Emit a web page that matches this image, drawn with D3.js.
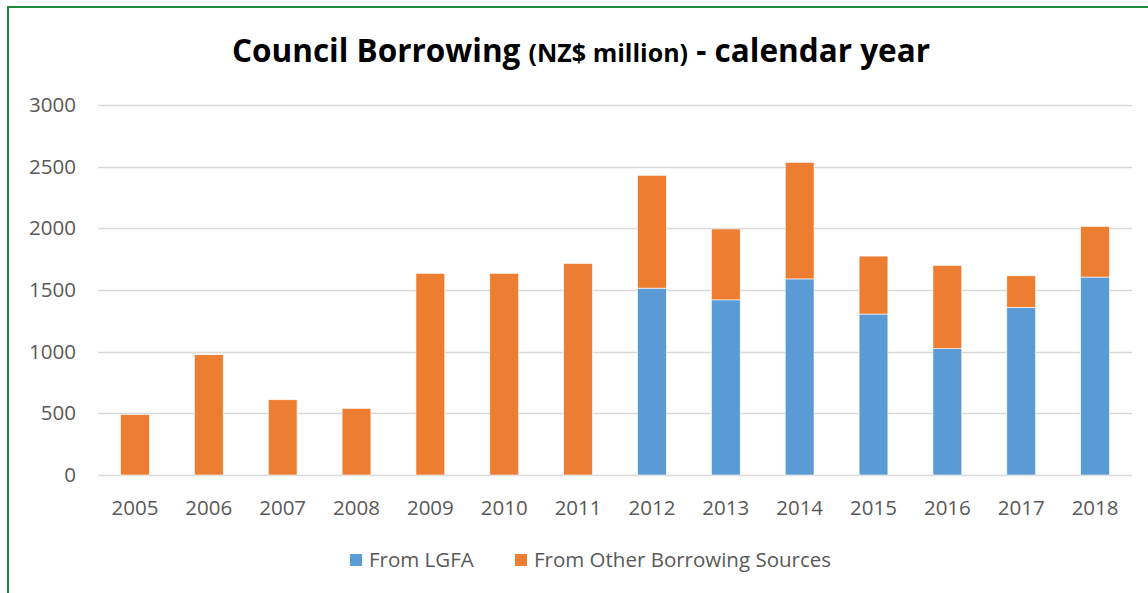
<!DOCTYPE html>
<html>
<head>
<meta charset="utf-8">
<title>Council Borrowing</title>
<script src="https://cdn.jsdelivr.net/npm/d3@7"></script>
<style>
    body { margin: 0; background: #fff; }
    text { font-family: "Open Sans", "Noto Sans", sans-serif; }
</style>
</head>
<body>
<div id="chart"></div>
<script>

    // Data (NZ$ million)
    const years = ["2005", "2006", "2007", "2008", "2009", "2010", "2011",
                   "2012", "2013", "2014", "2015", "2016", "2017", "2018"];
    const fromLGFA = [0, 0, 0, 0, 0, 0, 0, 1515, 1420, 1590, 1305, 1025, 1360, 1605];
    const fromOther = [490, 975, 610, 540, 1635, 1635, 1715, 915, 575, 945, 470, 675, 255, 410];
    const yTicks = [0, 500, 1000, 1500, 2000, 2500, 3000];
    const seriesNames = ["From LGFA", "From Other Borrowing Sources"];
    const seriesColors = ["#5B9BD5", "#ED7D31"];

    const width = 1148;
    const height = 593;
    const margin = { top: 105, right: 16, bottom: 118, left: 98 };

    const svg = d3.select("#chart")
        .append("svg")
        .attr("width", width)
        .attr("height", height);

    // green frame
    svg.append("rect")
        .attr("x", 8)
        .attr("y", 7)
        .attr("width", width + 20)
        .attr("height", height + 20)
        .attr("fill", "none")
        .attr("stroke", "#1E8A3C")
        .attr("stroke-width", 2);

    const x = d3.scaleBand()
        .domain(years)
        .range([margin.left, width - margin.right])
        .paddingInner(0.61)
        .paddingOuter(0.305);

    const y = d3.scaleLinear()
        .domain([0, 3000])
        .range([height - margin.bottom, margin.top]);

    // gridlines
    svg.append("g")
        .selectAll("line")
        .data(yTicks)
        .enter()
        .append("line")
        .attr("x1", margin.left)
        .attr("x2", width - margin.right)
        .attr("y1", d => Math.round(y(d)) + 0.5)
        .attr("y2", d => Math.round(y(d)) + 0.5)
        .attr("stroke", "#D9D9D9")
        .attr("stroke-width", 1.5);

    // y axis labels
    const yAxis = d3.axisLeft(y)
        .tickValues(yTicks)
        .tickFormat(d3.format("d"))
        .tickSize(0)
        .tickPadding(22);
    svg.append("g")
        .attr("transform", `translate(${margin.left}, 0)`)
        .call(yAxis)
        .call(g => g.select(".domain").remove())
        .selectAll("text")
        .attr("fill", "#595959")
        .style("font-size", "20.5px")
        .style("font-family", "'Open Sans', sans-serif");

    // x axis labels
    const xAxis = d3.axisBottom(x).tickSize(0).tickPadding(25);
    svg.append("g")
        .attr("transform", `translate(0, ${height - margin.bottom})`)
        .call(xAxis)
        .call(g => g.select(".domain").remove())
        .selectAll("text")
        .attr("fill", "#595959")
        .style("font-size", "20.5px")
        .style("font-family", "'Open Sans', sans-serif");

    // stacked bars
    const rows = years.map((yr, i) => ({ year: yr, lgfa: fromLGFA[i], other: fromOther[i] }));
    const stack = d3.stack().keys(["lgfa", "other"]);
    const series = stack(rows);

    svg.append("g")
        .selectAll("g")
        .data(series)
        .enter()
        .append("g")
        .attr("fill", (d, i) => seriesColors[i])
        .selectAll("rect")
        .data(d => d.filter(p => p[1] > p[0]))
        .enter()
        .append("rect")
        .attr("x", d => x(d.data.year))
        .attr("y", d => y(d[1]))
        .attr("width", x.bandwidth())
        .attr("height", d => y(d[0]) - y(d[1]))
        .attr("stroke", "#fff")
        .attr("stroke-width", 0.6);

    // title
    const title = svg.append("text")
        .attr("x", 581)
        .attr("y", 62)
        .attr("text-anchor", "middle")
        .attr("fill", "#000")
        .style("font-weight", "bold");
    title.append("tspan").style("font-size", "31.5px").text("Council Borrowing ");
    title.append("tspan").style("font-size", "25px").text("(NZ$ million)");
    title.append("tspan").style("font-size", "31.5px").text(" - calendar year");

    // legend
    const legend = svg.append("g").attr("transform", "translate(350, 560)");
    const legendX = [0, 165];
    seriesNames.forEach((name, i) => {
        const item = legend.append("g").attr("transform", `translate(${legendX[i]}, 0)`);
        item.append("rect")
            .attr("x", 0)
            .attr("y", -6)
            .attr("width", 12)
            .attr("height", 12)
            .attr("fill", seriesColors[i]);
        item.append("text")
            .attr("x", 19)
            .attr("y", 0)
            .attr("dy", "0.35em")
            .attr("fill", "#595959")
            .style("font-size", "20.5px")
            .text(name);
    });

</script>
</body>
</html>
